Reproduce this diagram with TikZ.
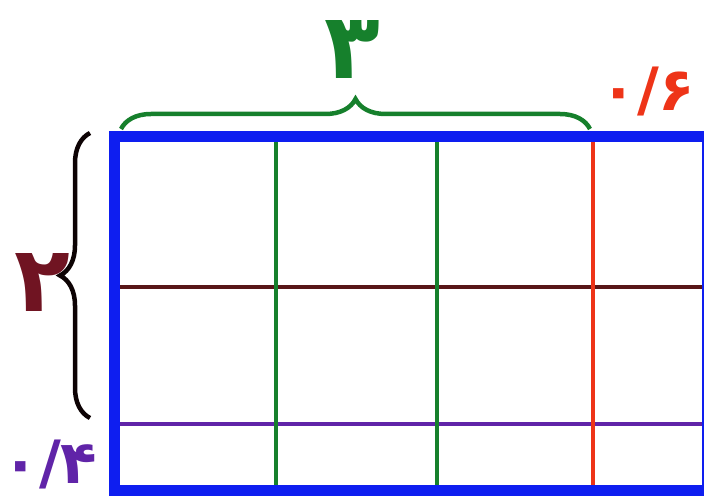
\documentclass[tikz,border=0pt]{standalone}
\usepackage{fontspec}
\newfontfamily\farsi[Script=Arabic]{DejaVu Sans}
\usetikzlibrary{decorations.pathreplacing}
\definecolor{frameblue}{RGB}{14,30,240}
\definecolor{colgreen}{RGB}{22,128,44}
\definecolor{colred}{RGB}{238,52,24}
\definecolor{rowbrown}{RGB}{88,22,24}
\definecolor{rowpurple}{RGB}{96,36,168}
\definecolor{twomaroon}{RGB}{112,20,34}
\begin{document}
\begin{tikzpicture}[x=0.1mm,y=-0.1mm,
  gridline/.style={line width=0.45mm},
  frame/.style={draw=frameblue,line width=1.1mm},
  bracket/.style={decorate,decoration={brace,amplitude=3mm},line width=0.45mm},
  bignum/.style={font=\farsi\bfseries\fontsize{26}{26}\selectfont},
  smallnum/.style={font=\farsi\bfseries\fontsize{17}{17}\selectfont}]
\useasboundingbox (0,0) rectangle (704,497);

\coordinate (nw) at (114,137);
\coordinate (se) at (707,491);

% rows and columns
\draw[gridline,rowbrown] (nw |- 0,287) -- (se |- 0,287);
\draw[gridline,rowpurple] (nw |- 0,424) -- (se |- 0,424);
\draw[gridline,colgreen] (276,0 |- nw) -- (276,0 |- se);
\draw[gridline,colgreen] (437,0 |- nw) -- (437,0 |- se);
\draw[gridline,colred] (593,0 |- nw) -- (593,0 |- se);
\draw[frame] (nw) rectangle (se);

% braces
\coordinate (topl) at (121,129);
\coordinate (topr) at (590,129);
\coordinate (leftb) at (90,418);
\coordinate (leftt) at (90,133);
\draw[bracket,colgreen] (topl) -- (topr);
\draw[bracket,black!85!rowbrown] (leftb) -- (leftt);

\node[bignum,text=colgreen] (three) at (352,50) {۳};
\node[bignum,text=twomaroon] (two) at (42,283) {۲};
\node[smallnum,text=colred] (sixth) at (648,92) {۰/۶};
\node[smallnum,text=rowpurple] (fourth) at (50,464) {۰/۴};
\end{tikzpicture}
\end{document}
